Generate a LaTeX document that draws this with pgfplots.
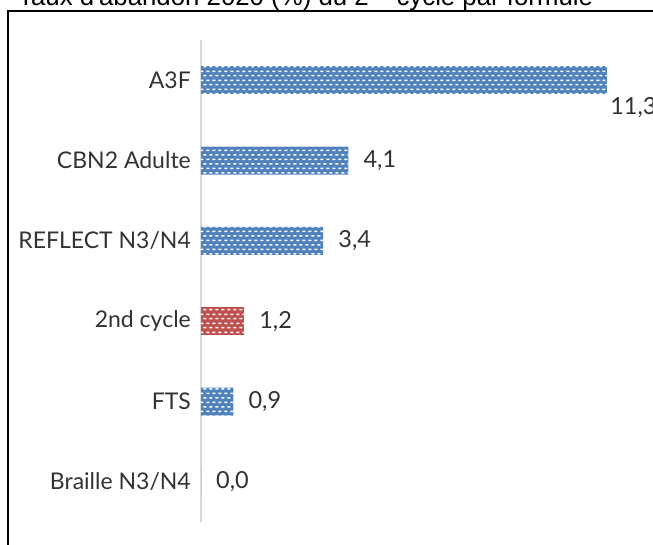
\documentclass[border=0pt]{standalone}
\usepackage{fontspec}
\setmainfont{Lato}
\newfontfamily\titlefont{Liberation Sans}
\usepackage{pgfplots}
\pgfplotsset{compat=1.18}
\usetikzlibrary{patterns}
\pgfdeclarepatternformonly{xldash}{\pgfqpoint{0pt}{0pt}}{\pgfqpoint{6pt}{9.4pt}}{\pgfqpoint{6pt}{9.4pt}}{%
  \pgfpathrectangle{\pgfqpoint{0.3pt}{1.6pt}}{\pgfqpoint{3.2pt}{1.6pt}}%
  \pgfpathrectangle{\pgfqpoint{3.3pt}{6.3pt}}{\pgfqpoint{2.7pt}{1.6pt}}%
  \pgfpathrectangle{\pgfqpoint{0pt}{6.3pt}}{\pgfqpoint{0.5pt}{1.6pt}}%
  \pgfusepath{fill}}
\definecolor{xlblue}{RGB}{79,129,189}
\definecolor{xlred}{RGB}{192,80,77}
\definecolor{axgray}{RGB}{217,217,217}
\definecolor{txt}{RGB}{50,50,50}
\begin{document}
\begin{tikzpicture}
\useasboundingbox (0,0) rectangle (653bp,-545bp);
\draw[line width=1.6bp] (8bp,-570bp) -- (8bp,-11bp) -- (680bp,-11bp);
\node[anchor=base west, inner sep=0pt, font=\titlefont\fontsize{25.8bp}{30bp}\selectfont] at (18bp,-5bp)
  {Taux d'abandon 2020 (\%) du 2\textsuperscript{nd} cycle par formule};
\begin{axis}[
  at={(201bp,-522bp)}, anchor=south west,
  scale only axis, width=449.2bp, height=482bp,
  xmin=0, xmax=12.5, ymin=-0.5, ymax=5.5,
  y dir=reverse,
  xbar, bar width=28bp, bar shift=0pt,
  axis x line=none, axis y line=left,
  y axis line style={draw=axgray, line width=1.8bp, -},
  xtick=\empty,
  ytick={0,1,2,3,4,5},
  yticklabels={A3F\hspace{11bp}, CBN2 Adulte, REFLECT N3/N4\hspace{-5bp}, 2nd cycle, FTS\hspace{10bp}, Braille N3/N4\hspace{1bp}},
  major tick length=0pt,
  yticklabel style={font=\fontsize{23bp}{28bp}\selectfont, text=txt, anchor=east, inner sep=0pt, xshift=-10bp},
  clip=false,
  nodes near coords,
  /pgf/number format/.cd, fixed, fixed zerofill, precision=1, use comma, assume math mode=true,
  /pgfplots/.cd,
  every node near coord/.append style={font=\fontsize{23.5bp}{28bp}\selectfont, text=txt, inner sep=0pt},
]
\addplot[fill=xlblue, draw=none, postaction={pattern=xldash, pattern color=white},
  nodes near coords style={anchor=west, xshift=3bp, yshift=-27bp}]
  coordinates {(11.3,0)};
\addplot[fill=xlblue, draw=none, postaction={pattern=xldash, pattern color=white},
  nodes near coords style={anchor=west, xshift=15bp}]
  coordinates {(4.1,1) (3.4,2) (0.9,4) (0.0,5)};
\addplot[fill=xlred, draw=none, postaction={pattern=xldash, pattern color=white},
  nodes near coords style={anchor=west, xshift=15bp}]
  coordinates {(1.2,3)};
\end{axis}
\end{tikzpicture}
\end{document}
